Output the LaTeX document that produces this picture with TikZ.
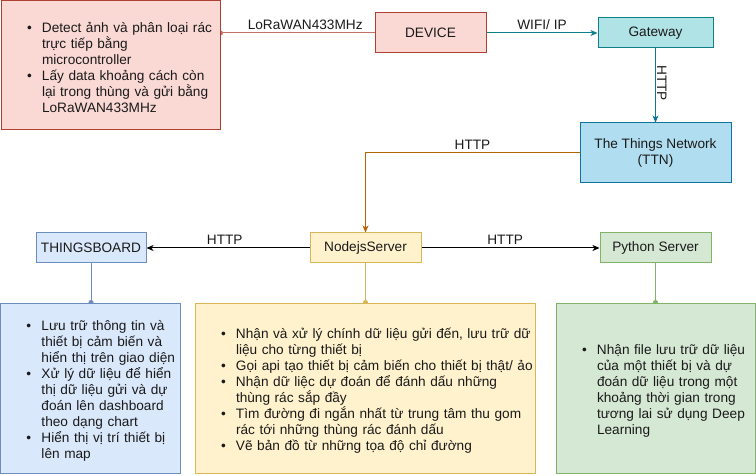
\documentclass[tikz,border=0pt]{standalone}
\usepackage{fontspec}
\setmainfont{Liberation Sans}
\usetikzlibrary{arrows.meta}
\pgfdeclarelayer{bg}
\pgfsetlayers{bg,main}
\definecolor{redf}{HTML}{FAD9D5}\definecolor{redd}{HTML}{AE4132}
\definecolor{tealf}{HTML}{B0E3E6}\definecolor{teald}{HTML}{0E8088}
\definecolor{ttnf}{HTML}{B1DDF0}\definecolor{ttnd}{HTML}{10739E}
\definecolor{bluef}{HTML}{DAE8FC}\definecolor{blued}{HTML}{6C8EBF}
\definecolor{yelf}{HTML}{FFF2CC}\definecolor{yeld}{HTML}{D6B656}
\definecolor{grnf}{HTML}{D5E8D4}\definecolor{grnd}{HTML}{82B366}
\definecolor{orgd}{HTML}{B46504}
\definecolor{txt}{HTML}{1A1A1A}
\newcommand\dfont{\fontsize{13.65}{16}\selectfont}
\newcommand\bitem[1]{\par\hangindent=15pt\hangafter=1\noindent\makebox[15pt][l]{\textbullet}#1}
\newcommand\lstset{\leftskip=25pt\rightskip=-40pt plus 1fil}
\begin{document}
\begin{tikzpicture}[x=1pt,y=-1pt,
  box/.style={draw, line width=1pt, inner sep=1pt, font=\dfont, text=txt, align=center},
  lstbox/.style={draw, line width=1pt, inner sep=1pt, font=\dfont, text=txt, align=left, minimum height=170},
  conn/.style={line width=1pt},
  tip/.style={-{Stealth[length=7pt,width=6pt,inset=2pt]}},
  dotend/.style={-{Circle[length=5pt]}, shorten >=-2.5pt},
  dotstart/.style={{Circle[length=5pt]}-, shorten <=-2.5pt},
  lbl/.style={font=\dfont, text=txt, inner sep=1pt}]
\useasboundingbox (0,0) rectangle (756,476);

% boxes
\node[lstbox, fill=redf, draw=redd, minimum width=219, minimum height=129, text width=217] (dev) at (110.5,65)
 {\lstset\bitem{Detect ảnh và phân loại rác\newline trực tiếp bằng\newline microcontroller}%
  \bitem{Lấy data khoảng cách còn\newline lại trong thùng và gửi bằng\newline LoRaWAN433MHz}\par};
\node[box, fill=redf, draw=redd, minimum width=111, minimum height=40] (device) at (430.5,33) {DEVICE};
\node[box, fill=tealf, draw=teald, minimum width=115, minimum height=30] (gateway) at (655.5,33) {Gateway};
\node[box, fill=ttnf, draw=ttnd, minimum width=151, minimum height=60] (ttn) at (655.5,153) {The Things Network\\(TTN)};
\node[box, fill=bluef, draw=blued, minimum width=110, minimum height=30] (tb) at (91,248) {THINGSBOARD};
\node[box, fill=yelf, draw=yeld, minimum width=111, minimum height=30] (nodejs) at (365.5,248) {NodejsServer};
\node[box, fill=grnf, draw=grnd, minimum width=111, minimum height=30] (py) at (655.5,248) {Python Server};

\node[lstbox, fill=bluef, draw=blued, minimum width=179.5, text width=177.5] (tbl) at (90.25,388)
 {\lstset\bitem{Lưu trữ thông tin và\newline thiết bị cảm biến và\newline hiển thị trên giao diện}%
  \bitem{Xử lý dữ liệu để hiển\newline thị dữ liệu gửi và dự\newline đoán lên dashboard\newline theo dạng chart}%
  \bitem{Hiển thị vị trí thiết bị\newline lên map}\par};
\node[lstbox, fill=yelf, draw=yeld, minimum width=340, text width=338] (nodel) at (365,388)
 {\lstset\bitem{Nhận và xử lý chính dữ liệu gửi đến, lưu trữ dữ\newline liệu cho từng thiết bị}%
  \bitem{Gọi api tạo thiết bị cảm biến cho thiết bị thật/ ảo}%
  \bitem{Nhận dữ liệc dự đoán để đánh dấu những\newline thùng rác sắp đầy}%
  \bitem{Tìm đường đi ngắn nhất từ trung tâm thu gom\newline rác tới những thùng rác đánh dấu}%
  \bitem{Vẽ bản đồ từ những tọa độ chỉ đường}\par};
\node[lstbox, fill=grnf, draw=grnd, minimum width=199, text width=197] (pyl) at (655.5,388)
 {\lstset\bitem{Nhận file lưu trữ dữ liệu\newline của một thiết bị và dự\newline đoán dữ liệu trong một\newline khoảng thời gian trong\newline tương lai sử dụng Deep\newline Learning}\par};

% connectors
\begin{pgfonlayer}{bg}
\draw[conn, draw=redd!75, dotstart] (dev.east |- device.west) -- node[lbl, above=2pt, pos=0.55] {LoRaWAN433MHz} (device.west);
\draw[conn, draw=teald, tip] (device.east) -- node[lbl, above=2pt] {WIFI/ IP} (gateway.west);
\draw[conn, draw=ttnd, tip] (gateway.south) -- node[lbl, rotate=-90, anchor=south, pos=0.47] {HTTP} (ttn.north);
\draw[conn, draw=orgd, tip] (ttn.west) -| node[lbl, above=2pt, pos=0.25] {HTTP} (nodejs.north);
\draw[conn, draw=black, tip] (nodejs.west) -- node[lbl, above=2pt, pos=0.52] {HTTP} (tb.east);
\draw[conn, draw=black, tip] (nodejs.east) -- node[lbl, above=2pt, pos=0.47] {HTTP} (py.west);
\draw[conn, draw=blued, dotend] (tb.south) -- (tb.south |- tbl.north);
\draw[conn, draw=yeld, dotend] (nodejs.south) -- (nodejs.south |- nodel.north);
\draw[conn, draw=grnd, dotend] (py.south) -- (py.south |- pyl.north);
\end{pgfonlayer}
\end{tikzpicture}
\end{document}
